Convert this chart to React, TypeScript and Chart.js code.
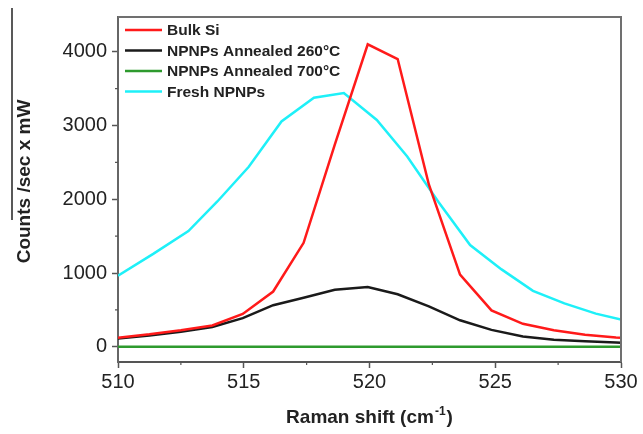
import React, { useEffect, useRef } from 'react';
import { Chart, registerables } from 'chart.js';

Chart.register(...registerables);

// Raman shift (cm^-1) sample positions
const bulkX = [510, 511.25, 512.5, 513.75, 514.96, 516.17, 517.38, 518.62, 519.93, 521.12, 522.36, 523.6, 524.85, 526.1, 527.33, 528.57, 529.8, 530];
const bulkY = [125, 170, 225, 290, 446, 750, 1410, 2740, 4100, 3900, 2200, 980, 495, 312, 225, 165, 128, 125];

const ann260X = [510, 511.25, 512.5, 513.75, 514.96, 516.17, 517.38, 518.62, 519.93, 521.12, 522.36, 523.6, 524.85, 526.1, 527.33, 528.57, 529.8, 530];
const ann260Y = [112, 155, 205, 270, 390, 565, 665, 775, 812, 713, 550, 360, 230, 140, 97, 75, 60, 55];

const ann700X = [510, 530];
const ann700Y = [0, 0];

const freshX = [510, 511.4, 512.8, 513.95, 515.2, 516.5, 517.79, 518.98, 520.29, 521.5, 522.75, 524.0, 525.25, 526.5, 527.75, 529.0, 530];
const freshY = [965, 1260, 1570, 1970, 2440, 3055, 3375, 3440, 3075, 2580, 1960, 1380, 1050, 760, 590, 450, 370];

const seriesNames = ['Bulk Si', 'NPNPs Annealed 260°C', 'NPNPs Annealed 700°C', 'Fresh NPNPs'];
const seriesColors = ['#ff1a1a', '#1a1a1a', '#2e9a2e', '#1ef0f8'];

const xTickValues = [510, 515, 520, 525, 530];
const yTickValues = [0, 1000, 2000, 3000, 4000];
const xTicksMinor = [512.5, 517.5, 522.5, 527.5];
const yTicksMinor = [500, 1500, 2500, 3500];

const xTitleMain = 'Raman shift (cm';
const xTitleSup = '-1';
const yTitle = 'Counts /sec x mW';

const FONT = '"Liberation Sans", Arial, sans-serif';

function pts(xs: number[], ys: number[]) {
  return xs.map((x, i) => ({ x, y: ys[i] }));
}

const decorPlugin = {
  id: 'decor',
  afterDraw(chart: any) {
    const ctx = chart.ctx as CanvasRenderingContext2D;
    const { left, right, top, bottom } = chart.chartArea;
    const xs = chart.scales.x;
    const ys = chart.scales.y;
    ctx.save();
    // top and right frame
    ctx.strokeStyle = '#707070';
    ctx.lineWidth = 2;
    ctx.beginPath();
    ctx.moveTo(left, top);
    ctx.lineTo(right, top);
    ctx.lineTo(right, bottom);
    ctx.stroke();
    // minor ticks
    ctx.strokeStyle = '#555';
    ctx.lineWidth = 1.2;
    ctx.beginPath();
    xTicksMinor.forEach((v) => {
      const px = xs.getPixelForValue(v);
      ctx.moveTo(px, bottom);
      ctx.lineTo(px, bottom + 3);
    });
    yTicksMinor.forEach((v) => {
      const py = ys.getPixelForValue(v);
      ctx.moveTo(left, py);
      ctx.lineTo(left - 3, py);
    });
    ctx.stroke();
    // legend
    ctx.font = `bold 15.5px ${FONT}`;
    ctx.textBaseline = 'middle';
    ctx.textAlign = 'left';
    seriesNames.forEach((name, i) => {
      const y = top + 13 + i * 20.5;
      ctx.strokeStyle = seriesColors[i];
      ctx.lineWidth = 2.5;
      ctx.beginPath();
      ctx.moveTo(left + 7, y);
      ctx.lineTo(left + 44, y);
      ctx.stroke();
      ctx.fillStyle = '#222';
      ctx.fillText(name, left + 49, y + 1);
    });
    // x title with superscript
    ctx.fillStyle = '#222';
    ctx.textBaseline = 'alphabetic';
    ctx.font = `bold 19px ${FONT}`;
    const wMain = ctx.measureText(xTitleMain).width;
    ctx.font = `bold 12px ${FONT}`;
    const wSup = ctx.measureText(xTitleSup).width;
    ctx.font = `bold 19px ${FONT}`;
    const wParen = ctx.measureText(')').width;
    const total = wMain + wSup + wParen + 2;
    const cx = (left + right) / 2;
    let x0 = cx - total / 2;
    const base = 423;
    ctx.fillText(xTitleMain, x0, base);
    x0 += wMain + 1;
    ctx.font = `bold 12px ${FONT}`;
    ctx.fillText(xTitleSup, x0, base - 8);
    x0 += wSup + 1;
    ctx.font = `bold 19px ${FONT}`;
    ctx.fillText(')', x0, base);
    // y title
    ctx.save();
    ctx.translate(30, (top + bottom) / 2 - 8);
    ctx.rotate(-Math.PI / 2);
    ctx.textAlign = 'center';
    ctx.fillText(yTitle, 0, 0);
    ctx.restore();
    // scan artefact line at left edge
    ctx.strokeStyle = '#222';
    ctx.lineWidth = 1.5;
    ctx.beginPath();
    ctx.moveTo(12, 8);
    ctx.lineTo(12, 220);
    ctx.stroke();
    ctx.restore();
  },
};

export default function App() {
  const ref = useRef<HTMLCanvasElement | null>(null);
  useEffect(() => {
    if (!ref.current) return;
    const series = [pts(bulkX, bulkY), pts(ann260X, ann260Y), pts(ann700X, ann700Y), pts(freshX, freshY)];
    const chart = new Chart(ref.current, {
      type: 'line',
      data: {
        datasets: series.map((d, i) => ({
          label: seriesNames[i],
          data: d,
          borderColor: seriesColors[i],
          backgroundColor: seriesColors[i],
          borderWidth: 2.5,
          pointRadius: 0,
          tension: 0,
          fill: false,
        })),
      },
      options: {
        responsive: false,
        animation: false,
        layout: { padding: { left: 0, right: 22, top: 12, bottom: 0 } },
        plugins: { legend: { display: false }, tooltip: { enabled: false } },
        scales: {
          x: {
            type: 'linear',
            min: 510,
            max: 530,
            afterBuildTicks: (s: any) => { s.ticks = xTickValues.map((v) => ({ value: v })); },
            ticks: {
              maxRotation: 0,
              padding: 2,
              color: '#222',
              font: { family: FONT, size: 20 },
              callback: (v: any) => String(v),
            },
            grid: { drawOnChartArea: false, tickLength: 6, tickColor: '#555', tickWidth: 1.5 },
            border: { color: '#555', width: 2 },
            afterFit: (s: any) => { s.height = 72; },
          },
          y: {
            type: 'linear',
            min: -205,
            max: 4470,
            afterBuildTicks: (s: any) => { s.ticks = yTickValues.map((v) => ({ value: v })); },
            ticks: {
              padding: 5,
              color: '#222',
              font: { family: FONT, size: 20 },
              callback: (v: any) => String(v),
            },
            grid: { drawOnChartArea: false, tickLength: 6, tickColor: '#555', tickWidth: 1.5 },
            border: { color: '#666', width: 2 },
            afterFit: (s: any) => { s.width = 118; },
          },
        },
      },
      plugins: [decorPlugin],
    });
    return () => chart.destroy();
  }, []);
  return (
    <div style={{ position: 'fixed', left: 0, top: 0, width: 643, height: 434, background: '#fff' }}>
      <canvas ref={ref} width={643} height={434} style={{ display: 'block' }} />
    </div>
  );
}
